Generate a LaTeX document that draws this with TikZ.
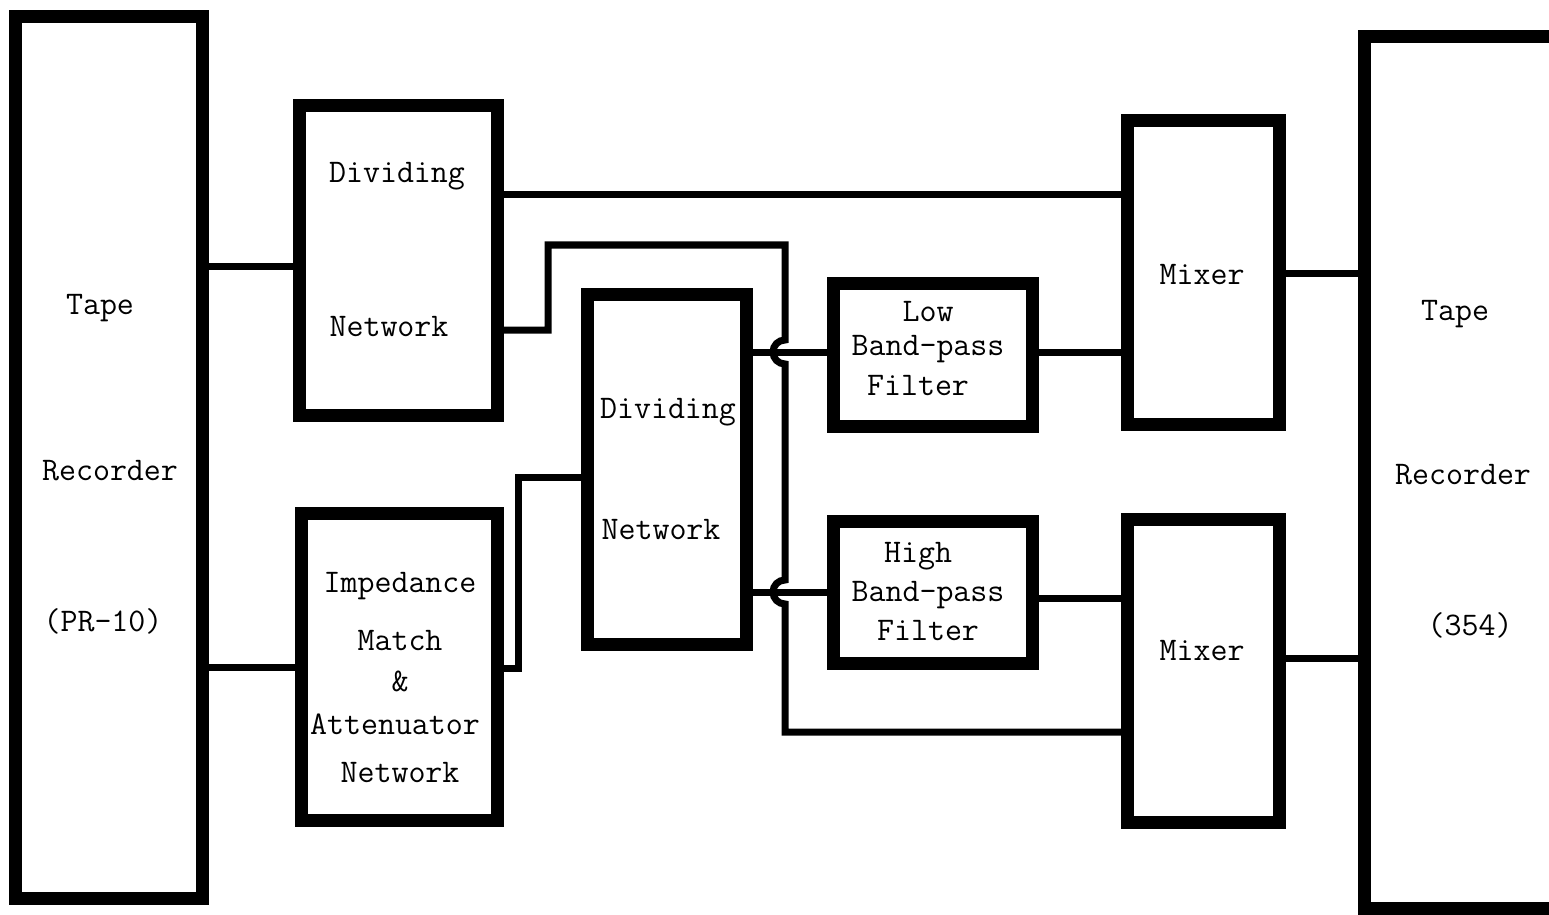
\documentclass[tikz,border=0pt]{standalone}
\usetikzlibrary{fit}
\begin{document}
\begin{tikzpicture}[x=0.5pt,y=-0.5pt,
  box/.style={draw=black,line width=6.5pt,inner sep=0pt,outer sep=0pt,fill=none},
  conn/.style={draw=black,line width=3.5pt},
  lbl/.style={font=\fontsize{16.5}{18.5}\selectfont\ttfamily,inner sep=0pt,anchor=center}]
\clip (0,0) rectangle (1549,915);
\fill[white] (0,0) rectangle (1549,915);
% boxes
\node[box,fit={(15,17) (202,898)}] (tr1) {};
\node[box,fit={(299,106) (497,415)}] (dn1) {};
\node[box,fit={(301,513) (497,820)}] (imp) {};
\node[box,fit={(587,294) (746,644)}] (dn2) {};
\node[box,fit={(833,283) (1032,426)}] (lbp) {};
\node[box,fit={(833,521) (1032,663)}] (hbp) {};
\node[box,fit={(1127,121) (1279,424)}] (mx1) {};
\node[box,fit={(1127,519) (1279,822)}] (mx2) {};
\node[box,fit={(1364,37) (1620,908)}] (tr2) {};
% connectors
\draw[conn] (tr1.east |- 0,266) -- (dn1.west |- 0,266);
\draw[conn] (tr1.east |- 0,667) -- (imp.west |- 0,667);
\draw[conn] (dn1.east |- 0,195) -- (mx1.west |- 0,195);
\coordinate (j1) at (548,330);
\coordinate (j2) at (548,245);
\coordinate (j3) at (785,245);
\coordinate (j4) at (785,340);
\coordinate (j5) at (785,580);
\coordinate (j6) at (785,732);
\draw[conn,line join=miter] (dn1.east |- j1) -- (j1) -- (j2) -- (j3) -- (j4)
   arc[start angle=90,end angle=270,radius=6pt] -- (j5)
   arc[start angle=90,end angle=270,radius=6pt] -- (j6) -- (mx2.west |- j6);
\draw[conn] (dn2.east |- 0,352) -- (lbp.west |- 0,352);
\draw[conn] (dn2.east |- 0,592) -- (hbp.west |- 0,592);
\coordinate (k1) at (518,668);
\coordinate (k2) at (518,477);
\draw[conn,line join=miter] (imp.east |- k1) -- (k1) -- (k2) -- (dn2.west |- k2);
\draw[conn] (lbp.east |- 0,352) -- (mx1.west |- 0,352);
\draw[conn] (hbp.east |- 0,598) -- (mx2.west |- 0,598);
\draw[conn] (mx1.east |- 0,273) -- (tr2.west |- 0,273);
\draw[conn] (mx2.east |- 0,658) -- (tr2.west |- 0,658);
% redraw box borders on top of connector ends
\foreach \n in {tr1,dn1,imp,dn2,lbp,hbp,mx1,mx2,tr2}
  \draw[line width=6.5pt] (\n.north west) rectangle (\n.south east);
% labels
\node[lbl] (t1a) at (100,308) {Tape};
\node[lbl] (t1b) at (110,471) {Recorder};
\node[lbl] (t1c) at (103,621) {(PR-10)};
\node[lbl] (d1a) at (397,176) {Dividing};
\node[lbl] (d1b) at (389,327) {Network};
\node[lbl] (i1) at (400,586) {Impedance};
\node[lbl] (i2) at (400,641) {Match};
\node[lbl] (i3) at (400,681) {\&};
\node[lbl] (i4) at (395,724) {Attenuator};
\node[lbl] (i5) at (400,773) {Network};
\node[lbl] (d2a) at (668,412) {Dividing};
\node[lbl] (d2b) at (661,530) {Network};
\node[lbl] (l1) at (928,312) {Low};
\node[lbl] (l2) at (928,349) {Band-pass};
\node[lbl] (l3) at (918,386) {Filter};
\node[lbl] (h1) at (918,556) {High};
\node[lbl] (h2) at (928,595) {Band-pass};
\node[lbl] (h3) at (928,631) {Filter};
\node[lbl] (m1) at (1202,275) {Mixer};
\node[lbl] (m2) at (1202,651) {Mixer};
\node[lbl] (t2a) at (1455,314) {Tape};
\node[lbl] (t2b) at (1463,475) {Recorder};
\node[lbl] (t2c) at (1470,625) {(354)};
\end{tikzpicture}
\end{document}
